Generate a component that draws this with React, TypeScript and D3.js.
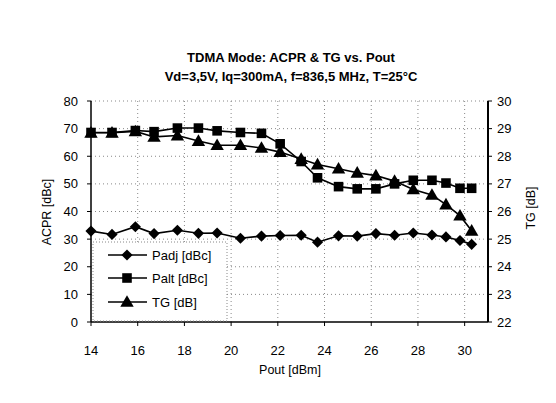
import React from "react";
import * as d3 from "d3";

const pout = [14, 14.9, 15.9, 16.7, 17.7, 18.6, 19.4, 20.4, 21.3, 22.1, 23.0, 23.7, 24.6, 25.4, 26.2, 27.0, 27.8, 28.6, 29.2, 29.8, 30.3];
const padj = [32.9, 31.7, 34.5, 32.0, 33.2, 32.1, 32.2, 30.3, 31.1, 31.3, 31.4, 28.9, 31.2, 31.1, 32.0, 31.4, 32.2, 31.5, 30.8, 29.5, 28.1];
const palt = [68.6, 68.6, 69.3, 68.9, 70.2, 70.2, 69.2, 68.6, 68.3, 64.5, 58.1, 52.2, 49.0, 48.2, 48.2, 50.0, 51.3, 51.3, 50.3, 48.4, 48.4];
const tg = [28.85, 28.85, 28.9, 28.7, 28.75, 28.55, 28.4, 28.4, 28.3, 28.15, 27.9, 27.7, 27.55, 27.4, 27.3, 27.1, 26.8, 26.6, 26.25, 25.85, 25.3];

const xTicks = [14, 16, 18, 20, 22, 24, 26, 28, 30];
const yLeftTicks = [0, 10, 20, 30, 40, 50, 60, 70, 80];
const yRightTicks = [22, 23, 24, 25, 26, 27, 28, 29, 30];

const title1 = "TDMA Mode: ACPR & TG vs. Pout";
const title2 = "Vd=3,5V, Iq=300mA, f=836,5 MHz, T=25°C";
const legendLabels = ["Padj [dBc]", "Palt [dBc]", "TG [dB]"];

const L = 91, R = 488, T = 101, B = 322;
const font = "'Liberation Sans', Arial, sans-serif";

export default function App() {
  const x = d3.scaleLinear().domain([14, 31]).range([L, R]);
  const yL = d3.scaleLinear().domain([0, 80]).range([B, T]);
  const yR = d3.scaleLinear().domain([22, 30]).range([B, T]);

  const lineL = d3.line<number>().x((_, i) => x(pout[i])).y((d) => yL(d));
  const lineR = d3.line<number>().x((_, i) => x(pout[i])).y((d) => yR(d));

  const diamond = d3.symbol().type(d3.symbolSquare).size(62)()!;
  const square = d3.symbol().type(d3.symbolSquare).size(92)()!;
  const tri = d3.symbol().type(d3.symbolTriangle).size(78)()!;

  const mark = (kind: string, cx: number, cy: number, key?: number) => {
    if (kind === "d")
      return <path key={key} d={diamond} transform={`translate(${cx},${cy}) rotate(45)`} fill="#000" />;
    if (kind === "s") return <path key={key} d={square} transform={`translate(${cx},${cy})`} fill="#000" />;
    return <path key={key} d={tri} transform={`translate(${cx},${cy + 1})`} fill="#000" />;
  };

  const markers = (vals: number[], y: (v: number) => number, kind: string) =>
    vals.map((v, i) => mark(kind, x(pout[i]), y(v), i));

  const legY = [255, 278, 302];
  const kinds = ["d", "s", "t"];

  return (
    <svg width={556} height={403} style={{ position: "absolute", left: 0, top: 0, background: "#fff" }} fontFamily={font}>
      <rect x={0} y={0} width={556} height={403} fill="#fff" />
      <text x={291} y={62} textAnchor="middle" fontSize={13} fontWeight="bold">{title1}</text>
      <text x={291} y={81} textAnchor="middle" fontSize={13} fontWeight="bold">{title2}</text>

      {xTicks.slice(1).map((t) => (
        <line key={"gx" + t} x1={x(t)} x2={x(t)} y1={T} y2={B} stroke="#888" strokeWidth={1} strokeDasharray="1,3" />
      ))}
      {yLeftTicks.slice(1).map((t) => (
        <line key={"gy" + t} x1={L} x2={R} y1={yL(t)} y2={yL(t)} stroke="#888" strokeWidth={1} strokeDasharray="1,3" />
      ))}

      <line x1={L} x2={L} y1={T} y2={B} stroke="#000" strokeWidth={1.5} />
      <line x1={L} x2={R} y1={B} y2={B} stroke="#000" strokeWidth={1.5} />
      <line x1={R} x2={R} y1={T} y2={B} stroke="#000" strokeWidth={2} />
      {yLeftTicks.map((t) => (
        <g key={"yl" + t}>
          <line x1={L - 4} x2={L} y1={yL(t)} y2={yL(t)} stroke="#000" />
          <text x={78} y={yL(t) + 4.5} textAnchor="end" fontSize={13}>{t}</text>
        </g>
      ))}
      {yRightTicks.map((t) => (
        <g key={"yr" + t}>
          <line x1={R} x2={R + 4} y1={yR(t)} y2={yR(t)} stroke="#000" />
          <text x={497} y={yR(t) + 4.5} textAnchor="start" fontSize={13}>{t}</text>
        </g>
      ))}
      {xTicks.map((t) => (
        <g key={"xt" + t}>
          <line x1={x(t)} x2={x(t)} y1={B} y2={B + 4} stroke="#000" />
          <text x={x(t)} y={355} textAnchor="middle" fontSize={13}>{t}</text>
        </g>
      ))}

      <text transform="translate(51,212) rotate(-90)" textAnchor="middle" fontSize={12.5}>ACPR [dBc]</text>
      <text transform="translate(535,208) rotate(-90)" textAnchor="middle" fontSize={12.5}>TG [dB]</text>
      <text x={290} y={374} textAnchor="middle" fontSize={12.5}>Pout [dBm]</text>

      <path d={lineL(padj)!} fill="none" stroke="#000" strokeWidth={1.6} />
      <path d={lineL(palt)!} fill="none" stroke="#000" strokeWidth={1.6} />
      <path d={lineR(tg)!} fill="none" stroke="#000" strokeWidth={1.6} />
      {markers(padj, yL, "d")}
      {markers(palt, yL, "s")}
      {markers(tg, yR, "t")}

      <rect x={93} y={242} width={134} height={79} fill="#fff" stroke="#888" strokeDasharray="1,2" />
      {legendLabels.map((lab, i) => (
        <g key={lab}>
          <line x1={108} x2={147} y1={legY[i]} y2={legY[i]} stroke="#000" strokeWidth={1.6} />
          {mark(kinds[i], 127, legY[i])}
          <text x={152} y={legY[i] + 5} fontSize={13}>{lab}</text>
        </g>
      ))}
    </svg>
  );
}
